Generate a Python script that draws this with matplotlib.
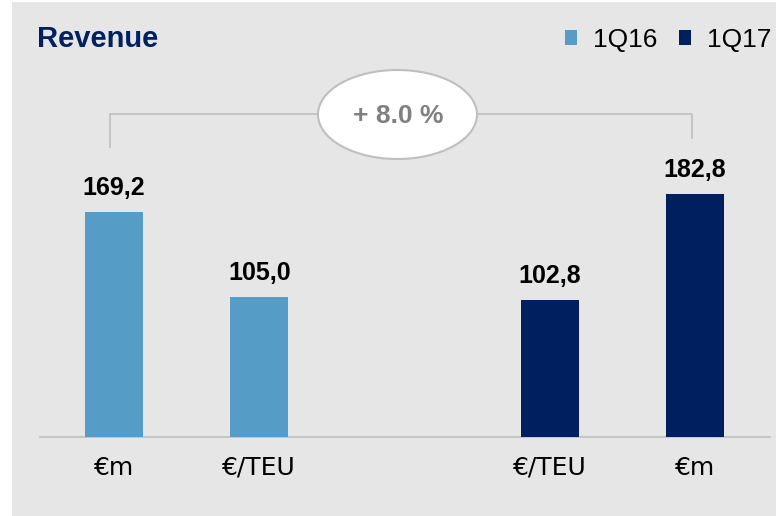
import matplotlib
matplotlib.use("Agg")
import matplotlib.pyplot as plt
from matplotlib.patches import Rectangle, Ellipse
from matplotlib.lines import Line2D

# ---- data ----
categories = ["€m", "€/TEU", "€/TEU", "€m"]
positions = [0, 1, 3, 4]
series = ["1Q16", "1Q16", "1Q17", "1Q17"]
values = [169.2, 105.0, 102.8, 182.8]
value_labels = ["169,2", "105,0", "102,8", "182,8"]
legend_labels = ["1Q16", "1Q17"]
growth_label = "+ 8.0 %"
title = "Revenue"

LIGHT = "#559CC6"
DARK = "#001F5F"
BG = "#E6E6E6"
colors = {"1Q16": LIGHT, "1Q17": DARK}

W, H = 776, 516
fig = plt.figure(figsize=(W / 100, H / 100), dpi=100, facecolor="white")

def fx(x):
    return x / W

def fy(y):
    return 1 - y / H

# gray panel
fig.patches.append(Rectangle((fx(12), 0), 1 - fx(12), fy(2), transform=fig.transFigure,
                             facecolor=BG, edgecolor="none", zorder=-5))

# axes: baseline at y=437px, x from 40 to 770 px
ax_left, ax_right = 40, 770
base_y, top_y = 437, 60
ax = fig.add_axes([fx(ax_left), fy(base_y), fx(ax_right - ax_left), (base_y - top_y) / H])
ax.set_facecolor("none")
ax.set_zorder(1)
px_per_unit = 145.25
ax.set_xlim((ax_left - 114) / px_per_unit, (ax_right - 114) / px_per_unit)
ax.set_ylim(0, (base_y - top_y) / 1.33)
for s in ["top", "right", "left"]:
    ax.spines[s].set_visible(False)
ax.spines["bottom"].set_color("#BFBFBF")
ax.spines["bottom"].set_linewidth(1.2)
ax.set_yticks([])
ax.set_xticks([])

bars = ax.bar(positions, values, width=58 / px_per_unit,
              color=[colors[s] for s in series], zorder=3)

for p, v, lab in zip(positions, values, value_labels):
    ax.annotate(lab, xy=(p, v), xytext=(0, 12.5), textcoords="offset points",
                ha="center", va="baseline", fontsize=18, fontweight="bold",
                family="Liberation Sans", color="black")

for p, c in zip(positions, categories):
    ax.annotate(c, xy=(p, 0), xytext=(0, -22), textcoords="offset points",
                ha="center", va="center", fontsize=18, family="DejaVu Sans",
                color="black", annotation_clip=False)

# title
fig.text(fx(37), fy(47), title, fontsize=21, fontweight="bold", color="#002060",
         family="Liberation Sans", va="baseline", ha="left")

# legend
handles = [Rectangle((0, 0), 1, 1, facecolor=colors[l], edgecolor="none") for l in legend_labels]
leg = fig.legend(handles, legend_labels, loc="center right", bbox_to_anchor=(fx(795), fy(40)),
                 ncol=2, frameon=False, handlelength=0.46, handleheight=0.46,
                 handletextpad=0.6, columnspacing=0.8,
                 prop={"family": "Liberation Sans", "size": 19})

# bracket and ellipse
line_col = "#BFBFBF"
fig.add_artist(Line2D([fx(110), fx(110), fx(320)], [fy(147), fy(114), fy(114)],
                      transform=fig.transFigure, color=line_col, lw=1.2))
fig.add_artist(Line2D([fx(476), fx(692), fx(692)], [fy(114), fy(114), fy(138)],
                      transform=fig.transFigure, color=line_col, lw=1.2))
fig.add_artist(Ellipse((fx(397.5), fy(114.5)), 159 / W, 89 / H, transform=fig.transFigure,
                       facecolor="white", edgecolor=line_col, lw=1.5, zorder=5))
fig.text(fx(398), fy(116), growth_label, fontsize=19, fontweight="bold", color="#808080",
         family="Liberation Sans", ha="center", va="center", zorder=6)

fig.savefig("out.png", dpi=100, facecolor="white")
